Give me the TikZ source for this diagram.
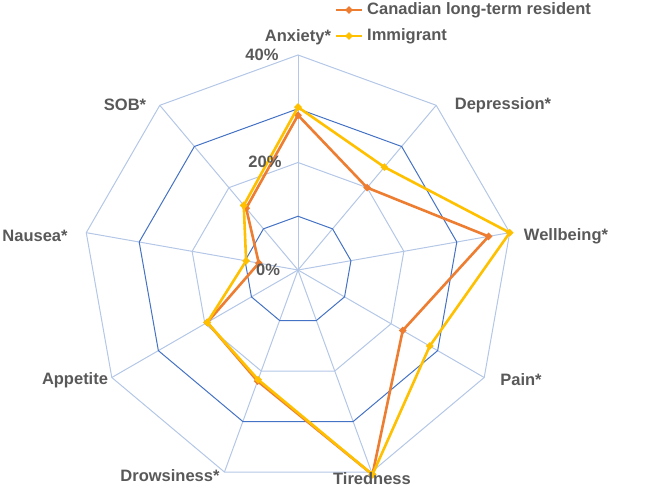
\documentclass[tikz,border=0pt]{standalone}
\usepackage{fontspec}
\setmainfont{Liberation Sans}
\usetikzlibrary{shapes.geometric}
\definecolor{org}{HTML}{ED7D31}
\definecolor{yel}{HTML}{FFC000}
\definecolor{txt}{HTML}{595959}
\definecolor{darkg}{HTML}{4472C4}
\definecolor{lightg}{HTML}{B4C7E7}
\tikzset{lbl/.style={font=\bfseries\fontsize{16.5}{19}\selectfont,text=txt,inner sep=1pt},
 mk/.style={diamond,inner sep=0pt,minimum size=8pt,fill=#1},
 ser/.style={#1,line width=2.6pt,line join=round}}
\begin{document}
\begin{tikzpicture}[x=1pt,y=-1pt]
\useasboundingbox (0,0) rectangle (646,491);
\begin{scope}[shift={(298,270)}]
\foreach \i in {0,...,8} \draw[lightg,line width=1pt] (0,0) -- (-90+\i*40:215);
\foreach \r/\col in {53.75/darkg,107.5/lightg,161.25/darkg,215/lightg}
 \draw[\col,line width=1pt] (-90:\r) \foreach \i in {1,...,8}{ -- (-90+\i*40:\r)} -- cycle;
% data
\foreach \v [count=\i from 0] in {28.8,20,36,22.5,40.5,22,19.5,7.4,15}
 \coordinate (o\i) at (-90+\i*40:{\v*5.375});
\foreach \v [count=\i from 0] in {30.3,25,40,28.3,40.5,21.7,19.5,9.8,15.7}
 \coordinate (y\i) at (-90+\i*40:{\v*5.375});
\draw[ser=org] (o0)--(o1)--(o2)--(o3)--(o4)--(o5)--(o6)--(o7)--(o8)--cycle;
\foreach \i in {0,...,8} \node[mk=org] (om\i) at (o\i) {};
\draw[ser=yel] (y0)--(y1)--(y2)--(y3)--(y4)--(y5)--(y6)--(y7)--(y8)--cycle;
\foreach \i in {0,...,8} \node[mk=yel] (ym\i) at (y\i) {};
\end{scope}
\node[lbl] (t40) at (262,55) {40\%};
\node[lbl] (t20) at (265,162) {20\%};
\node[lbl] (t0) at (268,270) {0\%};
\node[lbl] (a0) at (298,37) {Anxiety*};
\node[lbl] (a1) at (503,105) {Depression*};
\node[lbl] (a2) at (566,236) {Wellbeing*};
\node[lbl] (a3) at (521,380) {Pain*};
\node[lbl] (a4) at (372,479) {Tiredness};
\node[lbl] (a5) at (170,476) {Drowsiness*};
\node[lbl] (a6) at (75,380) {Appetite};
\node[lbl] (a7) at (35,236) {Nausea*};
\node[lbl] (a8) at (125,105) {SOB*};
\coordinate (l1a) at (336,10); \coordinate (l1b) at (362,10);
\draw[ser=org] (l1a) -- (l1b); \node[mk=org] (l1m) at (349,10) {};
\node[lbl,anchor=west] (l1) at (366,10) {Canadian long-term resident};
\coordinate (l2a) at (336,36); \coordinate (l2b) at (362,36);
\draw[ser=yel] (l2a) -- (l2b); \node[mk=yel] (l2m) at (349,36) {};
\node[lbl,anchor=west] (l2) at (366,36) {Immigrant};
\end{tikzpicture}
\end{document}
